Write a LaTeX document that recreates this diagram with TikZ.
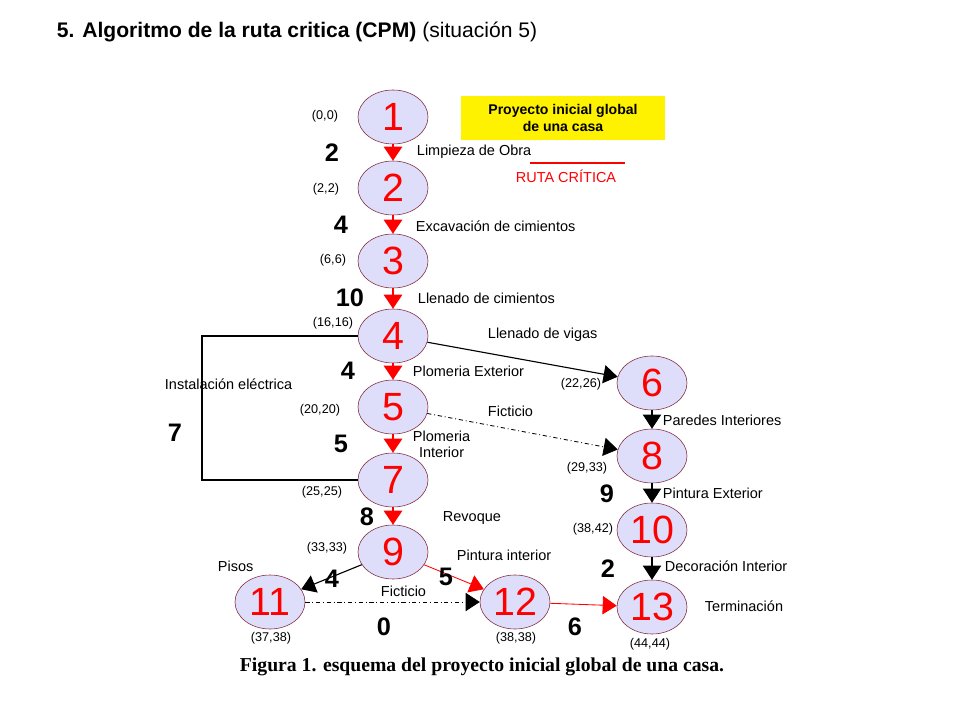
\documentclass[tikz,border=0pt]{standalone}
\usepackage{fontspec}
\setmainfont{Liberation Sans}
\newfontfamily\capfont{Liberation Serif}
\usetikzlibrary{arrows.meta,shapes.geometric}
\definecolor{nodefill}{RGB}{222,222,250}
\definecolor{nodeline}{RGB}{130,40,60}
\definecolor{critred}{RGB}{255,0,0}

\begin{document}
\begin{tikzpicture}[x=0.025cm, y=-0.025cm,
    event/.style={ellipse, draw=nodeline, fill=nodefill, minimum width=1.75cm, minimum height=1.35cm, inner sep=0pt, font=\fontsize{28}{28}\selectfont, text=critred},
    lbl/.style={font=\fontsize{10.3}{11.5}\selectfont, align=left},
    times/.style={font=\fontsize{9}{10}\selectfont},
    dur/.style={font=\fontsize{18}{18}\selectfont\bfseries},
    crit/.style={-{Triangle[length=10pt,width=13pt]}, critred, line width=1.6pt},
    critthin/.style={-{Triangle[length=10pt,width=13pt]}, critred, line width=0.6pt},
    act/.style={-{Triangle[length=10pt,width=13pt]}, black, line width=0.8pt},
    dummy/.style={-{Triangle[length=10pt,width=13pt]}, black, line width=0.6pt, dash dot}
]
\useasboundingbox (0,0) rectangle (960,720);

% Title
\node[anchor=west, font=\fontsize{15}{17}\selectfont] (title) at (52,32) {\textbf{5. Algoritmo de la ruta critica (CPM)} (situación 5)};

% Events
\node[event] (e1) at (393,117) {1};
\node[event] (e2) at (393,188) {2};
\node[event] (e3) at (393,261) {3};
\node[event] (e4) at (393,336) {4};
\node[event] (e5) at (393,407) {5};
\node[event] (e7) at (393,480) {7};
\node[event] (e9) at (393,552) {9};
\node[event] (e11) at (270,602) {11};
\node[event] (e12) at (515,602) {12};
\node[event] (e6) at (652,383) {6};
\node[event] (e8) at (652,456) {8};
\node[event] (e10) at (652,530) {10};
\node[event] (e13) at (652,607) {13};

% Times
\node[times] (t1) at (325,116) {(0,0)};
\node[times] (t2) at (326,189) {(2,2)};
\node[times] (t3) at (333,260) {(6,6)};
\node[times] (t4) at (333,323) {(16,16)};
\node[times] (t5) at (320,410) {(20,20)};
\node[times] (t7) at (322,492) {(25,25)};
\node[times] (t9) at (327,548) {(33,33)};
\node[times] (t11) at (271,638) {(37,38)};
\node[times] (t12) at (516,638) {(38,38)};
\node[times] (t6) at (581,384) {(22,26)};
\node[times] (t8) at (587,468) {(29,33)};
\node[times] (t10) at (593,529) {(38,42)};
\node[times] (t13) at (650,644) {(44,44)};

% Legend
\node[fill=yellow, minimum width=5.1cm, minimum height=1.08cm, font=\fontsize{10}{12}\selectfont\bfseries, align=center] (leyenda) at (563,118) {Proyecto inicial global\\de una casa};
\coordinate (rl) at (530,163);
\coordinate (rr) at (625,163);
\draw[critred, line width=0.8pt] (rl) -- (rr);
\node[lbl, text=critred] (ruta) at (566,176) {RUTA CRÍTICA};

% Critical path
\draw[crit] (e1) -- (e2);
\draw[crit] (e2) -- (e3);
\draw[crit] (e3) -- (e4);
\draw[crit] (e4) -- (e5);
\draw[crit] (e5) -- (e7);
\draw[crit] (e7) -- (e9);
\draw[critthin] (e9) -- (e12);
\draw[critthin] (e12) -- (e13);

% Other activities
\coordinate (lt) at (202,336);
\coordinate (lb) at (202,480);
\draw[black, line width=0.8pt] (e4.west) -- (lt) -- (lb) -- (e7.west);
\draw[act] (e4) -- (e6);
\draw[act] (e6) -- (e8);
\draw[act] (e8) -- (e10);
\draw[act] (e10) -- (e13);
\draw[act] (e9) -- (e11);
\draw[dummy] (e5) -- (e8);
\draw[dummy] (e11) -- (e12);

% Activity labels
\node[lbl, anchor=west] (a12) at (412,152) {Limpieza de Obra};
\node[lbl, anchor=west] (a23) at (411,226) {Excavación de cimientos};
\node[lbl, anchor=west] (a34) at (413,298) {Llenado de cimientos};
\node[lbl, anchor=west] (a46) at (483,335) {Llenado de vigas};
\node[lbl, anchor=west] (a45) at (408,371) {Plomeria Exterior};
\node[lbl, anchor=west] (a47) at (160,384) {Instalación eléctrica};
\node[lbl, anchor=west] (a58) at (483,411) {Ficticio};
\node[lbl, anchor=west, align=center] (a57) at (408,444) {Plomeria\\Interior};
\node[lbl, anchor=west] (a79) at (438,518) {Revoque};
\node[lbl, anchor=west] (a912) at (452,555) {Pintura interior};
\node[lbl, anchor=west] (a911) at (213,566) {Pisos};
\node[lbl, anchor=west] (a1112) at (376,591) {Ficticio};
\node[lbl, anchor=west] (a68) at (658,420) {Paredes Interiores};
\node[lbl, anchor=west] (a810) at (658,493) {Pintura Exterior};
\node[lbl, anchor=west] (a1013) at (660,566) {Decoración Interior};
\node[lbl, anchor=west] (a13) at (700,606) {Terminación};

% Durations
\node[dur] (d12) at (332,153) {2};
\node[dur] (d23) at (341,225) {4};
\node[dur] (d34) at (350,298) {10};
\node[dur] (d45) at (348,371) {4};
\node[dur] (d47) at (175,433) {7};
\node[dur] (d57) at (341,444) {5};
\node[dur] (d79) at (367,517) {8};
\node[dur] (d911) at (332,579) {4};
\node[dur] (d912) at (446,577) {5};
\node[dur] (d1112) at (384,627) {0};
\node[dur] (d1213) at (575,627) {6};
\node[dur] (d810) at (607,494) {9};
\node[dur] (d1013) at (608,569) {2};

% Caption
\node[font=\capfont\fontsize{14}{16}\selectfont\bfseries] (caption) at (482,667) {Figura 1. esquema del proyecto inicial global de una casa.};
\end{tikzpicture}
\end{document}
